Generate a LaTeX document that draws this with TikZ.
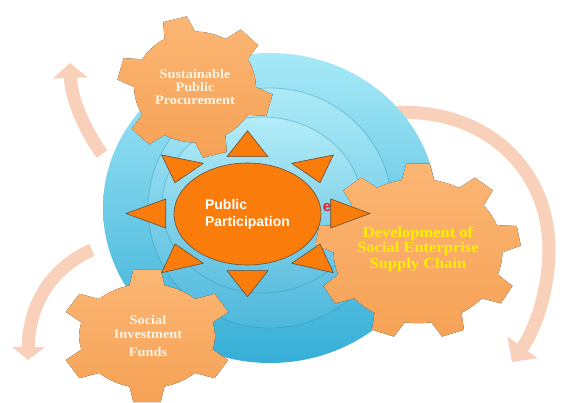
\documentclass[tikz,border=0pt]{standalone}
\usepackage{fontspec}
\setmainfont{Liberation Serif}
\newfontfamily\sunfont{Liberation Sans}
\newfontfamily\cogfont[FakeStretch=1.1]{Liberation Serif}
\usetikzlibrary{arrows.meta,shapes.geometric}

\definecolor{disclight}{HTML}{A6E9F7}
\definecolor{discblue}{HTML}{36AED7}
\definecolor{ringline}{HTML}{2A8CB0}
\definecolor{sunorange}{HTML}{FA7D0C}
\definecolor{sunline}{HTML}{6B4A32}
\definecolor{coglight}{HTML}{FBB674}
\definecolor{cogdark}{HTML}{F6A256}
\definecolor{cogtext}{HTML}{FFF4E4}
\definecolor{chainyellow}{HTML}{FFF000}
\definecolor{looppeach}{HTML}{F9D0B9}
\definecolor{hiddenred}{HTML}{E0202E}

% teeth, first tooth angle, tip half-angle, root half-angle, root radius
\newcommand{\cogpath}[5]{({#2-#4}:#5) \foreach \k in {1,...,#1} {
    -- ({#2+(\k-1)*360/#1-#3}:1) -- ({#2+(\k-1)*360/#1+#3}:1)
    -- ({#2+(\k-1)*360/#1+#4}:#5)
    arc[start angle={#2+(\k-1)*360/#1+#4},end angle={#2+\k*360/#1-#4},radius=#5]
  } -- cycle}

\begin{document}
\begin{tikzpicture}[x=1pt,y=-1pt,
    cog/.style={top color=coglight,bottom color=cogdark},
    ray/.style={fill=sunorange,draw=sunline,line width=0.6pt,line join=round},
    loop/.style={draw=looppeach,line width=13pt},
    cogtxt/.style={align=center,inner sep=0pt}]
                      \useasboundingbox (0,0) rectangle (563,403);
                      \clip (0,0) rectangle (563,403);
                      \fill[white] (0,0) rectangle (563,403);
                      % arrows round the disc
                      \draw[loop,-{Triangle[width=34pt,length=15pt]}] (102,154) .. controls (82,126) and (71,96) .. (70,63);
                      \draw[loop,-{Triangle[width=32pt,length=13pt]}] (92,250) .. controls (55,266) and (29,300) .. (28,360);
                      \draw[loop] (388,113) .. controls (480,105) and (549,165) .. (549,250);
                      \draw[loop,-{Triangle[width=36pt,length=18pt]}] (549,250) .. controls (549,290) and (535,330) .. (512,362);
                      % disc and rings
                      \shade[top color=disclight,bottom color=discblue] (270,208) ellipse[x radius=167,y radius=155];
                      \shade[top color=disclight!92!white,bottom color=discblue!88!white,draw=ringline,draw opacity=0.4,line width=0.8pt] (270,208) ellipse[x radius=122,y radius=120];
                      \shade[top color=disclight!85!white,bottom color=discblue!80!white,draw=ringline,draw opacity=0.4,line width=0.8pt] (262,205) ellipse[x radius=100,y radius=88];
                      \node[font=\sunfont\bfseries\fontsize{15}{15}\selectfont,text=hiddenred,inner sep=0pt] (hid) at (327,208) {e};
                      % gears
                      \fill[cog,shift={(195,87)},xscale=78,yscale=71] \cogpath{6}{15}{9}{15}{0.78};
                      \fill[cog,shift={(147,336)},xscale=87,yscale=67] \cogpath{6}{30}{9}{15}{0.78};
                      \fill[cog,shift={(418,251)},xscale=103,yscale=88] \cogpath{9}{30}{6.5}{11}{0.82};
                      \node[cogtxt,text=cogtext,font=\cogfont\bfseries\fontsize{13}{13}\selectfont] (spp) at (195,87) {Sustainable\\Public\\Procurement};
                      \node[cogtxt,text=cogtext,font=\cogfont\bfseries\fontsize{13}{14.5}\selectfont] (sif) at (148,336) {Social\\Investment\\[3pt]Funds};
                      \node[cogtxt,text=chainyellow,font=\cogfont\bfseries\fontsize{15}{15.5}\selectfont] (dsc) at (418,249) {Development of\\Social Enterprise\\Supply Chain};
                      % sun
                      \node[ray,ellipse,minimum width=147pt,minimum height=102pt,inner sep=0pt] (sun) at (247.5,214) {};
                      \filldraw[ray] (247.5,130.7) -- (227,156.7) -- (268,156.7) -- cycle;
                      \filldraw[ray] (247.5,296.7) -- (227,270.7) -- (268,270.7) -- cycle;
                      \filldraw[ray] (126,213.5) -- (165.7,199) -- (165.7,228) -- cycle;
                      \filldraw[ray] (370,213.5) -- (330.7,199) -- (330.7,228) -- cycle;
                      \filldraw[ray] (161.7,155) -- (203.3,163.3) -- (175,182.7) -- cycle;
                      \filldraw[ray] (333.3,155) -- (291.7,163.3) -- (320,182.7) -- cycle;
                      \filldraw[ray] (161.7,272.7) -- (175,244) -- (203.3,263.3) -- cycle;
                      \filldraw[ray] (333.3,272.7) -- (320,244) -- (291.7,263.3) -- cycle;
                      \node[font=\sunfont\bfseries\fontsize{14}{17}\selectfont,text=white,align=left,inner sep=0pt] (pp) at (sun.center) {Public\\Participation};
                  \end{tikzpicture}
\end{document}
